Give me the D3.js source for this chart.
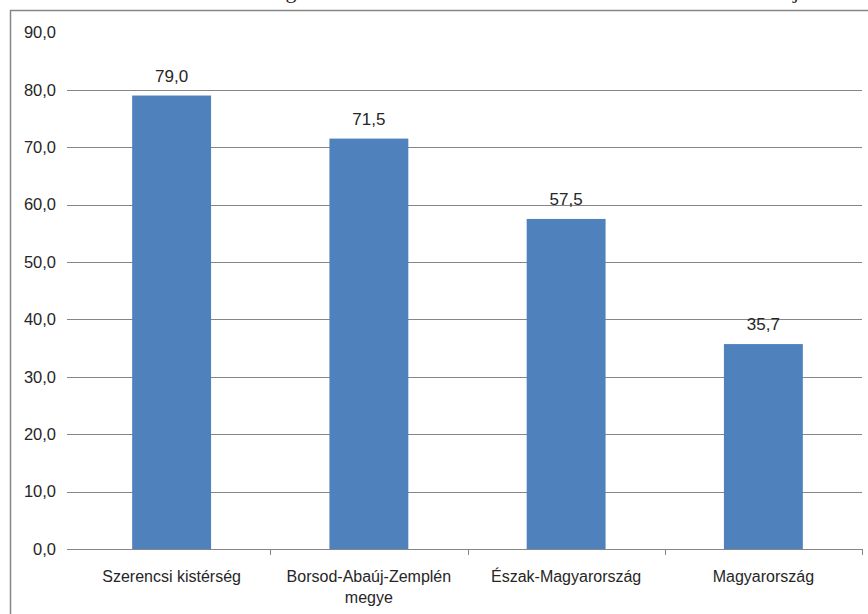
<!DOCTYPE html>
<html>
<head>
<meta charset="utf-8">
<script src="https://cdn.jsdelivr.net/npm/d3@7"></script>
<style>
  html, body { margin: 0; padding: 0; background: #fff; }
  svg { display: block; }
  text { font-family: "Liberation Sans", Arial, sans-serif; fill: #262626; }
</style>
</head>
<body>
<svg id="chart" width="868" height="614"></svg>
<script>
const categories = ["Szerencsi kistérség", "Borsod-Abaúj-Zemplén megye", "Észak-Magyarország", "Magyarország"];
const values = [79.0, 71.5, 57.5, 35.7];
const yTicks = [0, 10, 20, 30, 40, 50, 60, 70, 80, 90];

const svg = d3.select("#chart");
const fmt = v => d3.format(".1f")(v).replace(".", ",");

// Clipped title fragment (only descenders visible above the chart frame)
svg.append("text").attr("x", 291).attr("y", -2).attr("text-anchor", "middle")
  .style("font-family", "'Liberation Serif', serif").style("font-size", "22px").text("g");
svg.append("text").attr("x", 796).attr("y", -2).attr("text-anchor", "middle")
  .style("font-family", "'Liberation Serif', serif").style("font-size", "22px").text("j");

// Outer chart frame
svg.append("rect").attr("x", 10.5).attr("y", 10.5).attr("width", 880).attr("height", 640)
  .attr("fill", "none").attr("stroke", "#868686").attr("stroke-width", 1.5);

const gridLeft = 67, plotLeft = 73, plotRight = 862;
const y = d3.scaleLinear().domain([0, 90]).range([549, 32.4]);
const x = d3.scaleBand().domain(categories).range([plotLeft, plotRight])
  .paddingInner(0.6).paddingOuter(0.3);

// Gridlines (no line at top value)
svg.append("g").selectAll("line").data(yTicks.filter(t => t < 90)).join("line")
  .attr("x1", gridLeft).attr("x2", plotRight)
  .attr("y1", d => Math.round(y(d)) + 0.5).attr("y2", d => Math.round(y(d)) + 0.5)
  .attr("stroke", "#868686").attr("stroke-width", 1);

// Y labels
svg.append("g").selectAll("text").data(yTicks).join("text")
  .attr("x", 56).attr("y", d => y(d)).attr("dy", "0.35em")
  .attr("text-anchor", "end").style("font-size", "16.5px")
  .text(d => fmt(d));

// Category tick marks
const step = x.step();
const bounds = categories.map((c, i) => plotLeft + step * (i + 1));
svg.append("g").selectAll("line").data(bounds).join("line")
  .attr("x1", d => Math.round(d) + 0.5).attr("x2", d => Math.round(d) + 0.5)
  .attr("y1", 549).attr("y2", 555)
  .attr("stroke", "#868686").attr("stroke-width", 1);

// Bars
svg.append("g").selectAll("rect").data(values).join("rect")
  .attr("x", (d, i) => x(categories[i]))
  .attr("width", x.bandwidth())
  .attr("y", d => y(d))
  .attr("height", d => y(0) - y(d))
  .attr("fill", "#4F81BD");

// Value labels
svg.append("g").selectAll("text").data(values).join("text")
  .attr("x", (d, i) => x(categories[i]) + x.bandwidth() / 2)
  .attr("y", d => y(d) - 14)
  .attr("text-anchor", "middle").style("font-size", "17px")
  .text(d => fmt(d));

// Category labels with wrapping
const catG = svg.append("g");
categories.forEach((c, i) => {
  const cx = x(c) + x.bandwidth() / 2;
  const t = catG.append("text").attr("x", cx).attr("y", 582)
    .attr("text-anchor", "middle").style("font-size", "16px");
  const words = c.split(" ");
  let lines = [], line = [];
  const maxW = step - 8;
  const probe = catG.append("text").style("font-size", "16px");
  words.forEach(w => {
    const test = line.concat([w]).join(" ");
    probe.text(test);
    if (probe.node().getComputedTextLength() > maxW && line.length) {
      lines.push(line.join(" "));
      line = [w];
    } else line.push(w);
  });
  lines.push(line.join(" "));
  probe.remove();
  lines.forEach((l, j) => {
    t.append("tspan").attr("x", cx).attr("dy", j === 0 ? 0 : 21).text(l);
  });
});
</script>
</body>
</html>
